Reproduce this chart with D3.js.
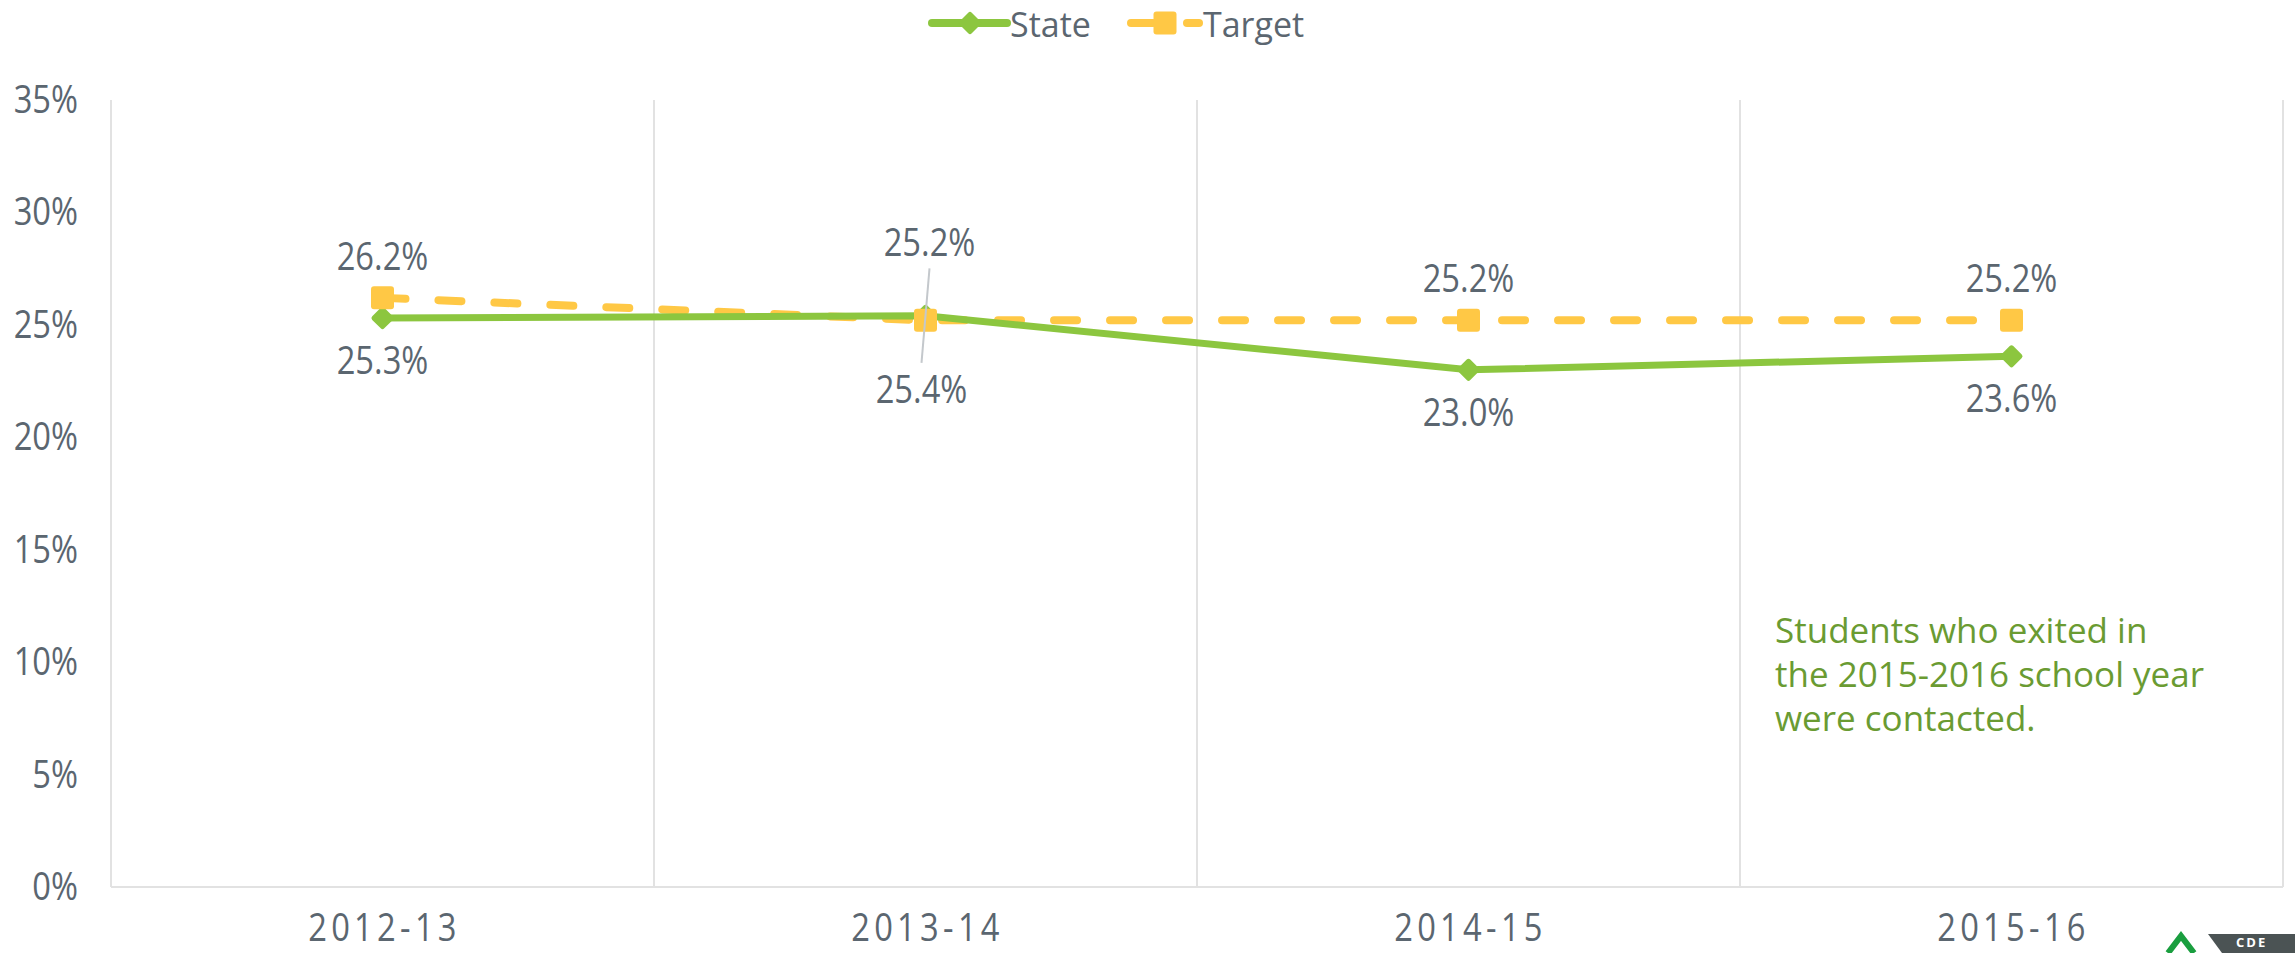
<!DOCTYPE html>
<html>
<head>
<meta charset="utf-8">
<script src="https://cdn.jsdelivr.net/npm/d3@7"></script>
<style>
  body { margin: 0; background: #fff; }
  svg { display: block; }
</style>
</head>
<body>
<div id="chart"></div>
<script>
var years = ["2012-13", "2013-14", "2014-15", "2015-16"];
var stateVals = [25.3, 25.4, 23.0, 23.6];
var targetVals = [26.2, 25.2, 25.2, 25.2];
var yTicks = [0, 5, 10, 15, 20, 25, 30, 35];
var note = ["Students who exited in", "the 2015-2016 school year", "were contacted."];

var w = 2295, h = 953;
var green = "#8cc63f", yellow = "#ffc845", grey = "#5b6670", grid = "#e2e2e2";
var sans = "'Open Sans', sans-serif";
var squeeze = 0.86; // the original uses a narrow face

var svg = d3.select("#chart").append("svg")
    .attr("width", w)
    .attr("height", h);

var x = d3.scaleBand()
    .domain(years)
    .range([111, 2283])
    .padding(0);

var y = d3.scaleLinear()
    .domain([0, 35])
    .range([887, 100]);

var cx = function(d) { return x(d) + x.bandwidth() / 2; };

// narrow text: placed by transform and squeezed horizontally
var narrowText = function(sel, anchor, px, py, txt, spacing) {
    return sel.append("text")
        .attr("transform", "translate(" + px + "," + py + ") scale(" + squeeze + ",1)")
        .attr("text-anchor", anchor)
        .attr("font-family", sans)
        .attr("font-size", 38)
        .attr("letter-spacing", spacing || 0)
        .attr("fill", grey)
        .text(txt);
};

// vertical grid lines at the category edges
var edges = years.map(function(d) { return x(d); }).concat([x.range()[1]]);
svg.selectAll("line.vgrid")
    .data(edges)
    .enter()
    .append("line")
    .attr("class", "vgrid")
    .attr("x1", function(d) { return d; })
    .attr("x2", function(d) { return d; })
    .attr("y1", y(35))
    .attr("y2", y(0))
    .attr("stroke", grid)
    .attr("stroke-width", 2);

svg.append("line")
    .attr("x1", x.range()[0])
    .attr("x2", x.range()[1])
    .attr("y1", y(0))
    .attr("y2", y(0))
    .attr("stroke", grid)
    .attr("stroke-width", 2);

// y axis labels
yTicks.forEach(function(d) {
    narrowText(svg, "end", 78, y(d) + 13, d + "%");
});

// x axis labels
years.forEach(function(d) {
    narrowText(svg, "middle", cx(d) + 2, 941, d, 5);
});

var line = d3.line()
    .x(function(d, i) { return cx(years[i]); })
    .y(function(d) { return y(d); });

svg.append("path")
    .datum(targetVals)
    .attr("d", line)
    .attr("fill", "none")
    .attr("stroke", yellow)
    .attr("stroke-width", 8)
    .attr("stroke-linecap", "round")
    .attr("stroke-dasharray", "23,33");

svg.append("path")
    .datum(stateVals)
    .attr("d", line)
    .attr("fill", "none")
    .attr("stroke", green)
    .attr("stroke-width", 7);

var diamond = function(sel, px, py) {
    sel.append("rect")
        .attr("x", -8.5).attr("y", -8.5)
        .attr("width", 17).attr("height", 17)
        .attr("rx", 2.5)
        .attr("fill", green)
        .attr("transform", "translate(" + px + "," + py + ") rotate(45)");
};
var square = function(sel, px, py) {
    sel.append("rect")
        .attr("x", px - 11.5).attr("y", py - 11.5)
        .attr("width", 23).attr("height", 23)
        .attr("rx", 3)
        .attr("fill", yellow);
};

stateVals.forEach(function(v, i) { diamond(svg, cx(years[i]), y(v)); });
targetVals.forEach(function(v, i) { square(svg, cx(years[i]), y(v)); });

// data labels, 2013-14 pair pulled apart with a leader line
var tOff = [-28, -64, -28, -28], tDx = [0, 4, 0, 0];
var sOff = [56, 87, 56, 56], sDx = [0, -4, 0, 0];

svg.append("line")
    .attr("x1", cx(years[1]) + 4).attr("y1", y(targetVals[1]) - 52)
    .attr("x2", cx(years[1]) - 4).attr("y2", y(stateVals[1]) + 47)
    .attr("stroke", "#c4c8cc")
    .attr("stroke-width", 2);

targetVals.forEach(function(v, i) {
    narrowText(svg, "middle", cx(years[i]) + tDx[i], y(v) + tOff[i], v.toFixed(1) + "%");
});
stateVals.forEach(function(v, i) {
    narrowText(svg, "middle", cx(years[i]) + sDx[i], y(v) + sOff[i], v.toFixed(1) + "%");
});

// legend
var lg = svg.append("g");
lg.append("line")
    .attr("x1", 932).attr("x2", 1007).attr("y1", 23).attr("y2", 23)
    .attr("stroke", green).attr("stroke-width", 8).attr("stroke-linecap", "round");
diamond(lg, 970, 23);
lg.append("text")
    .attr("x", 1010).attr("y", 37)
    .attr("font-family", sans).attr("font-size", 34).attr("fill", grey)
    .text("State");
lg.append("line")
    .attr("x1", 1131).attr("x2", 1153).attr("y1", 23).attr("y2", 23)
    .attr("stroke", yellow).attr("stroke-width", 8).attr("stroke-linecap", "round");
lg.append("line")
    .attr("x1", 1187).attr("x2", 1199).attr("y1", 23).attr("y2", 23)
    .attr("stroke", yellow).attr("stroke-width", 8).attr("stroke-linecap", "round");
square(lg, 1165, 23);
lg.append("text")
    .attr("x", 1203).attr("y", 37)
    .attr("font-family", sans).attr("font-size", 34).attr("fill", grey)
    .text("Target");

// note, one text per line
svg.selectAll("text.note")
    .data(note)
    .enter()
    .append("text")
    .attr("class", "note")
    .attr("x", 1775)
    .attr("y", function(d, i) { return 643 + i * 44; })
    .attr("font-family", sans)
    .attr("font-size", 35)
    .attr("fill", "#6a9b32")
    .text(function(d) { return d; });

// logo fragment in the corner
svg.append("path")
    .attr("d", "M2168,953 L2181,936 L2194,953")
    .attr("fill", "none")
    .attr("stroke", "#1a9e3f")
    .attr("stroke-width", 6);
svg.append("path")
    .attr("d", "M2208,934 L2295,934 L2295,953 L2222,953 Z")
    .attr("fill", "#4b5354");
svg.append("text")
    .attr("x", 2236).attr("y", 947)
    .attr("font-family", sans).attr("font-weight", "bold")
    .attr("font-size", 13).attr("letter-spacing", 2).attr("fill", "#fff")
    .text("CDE");
</script>
</body>
</html>
